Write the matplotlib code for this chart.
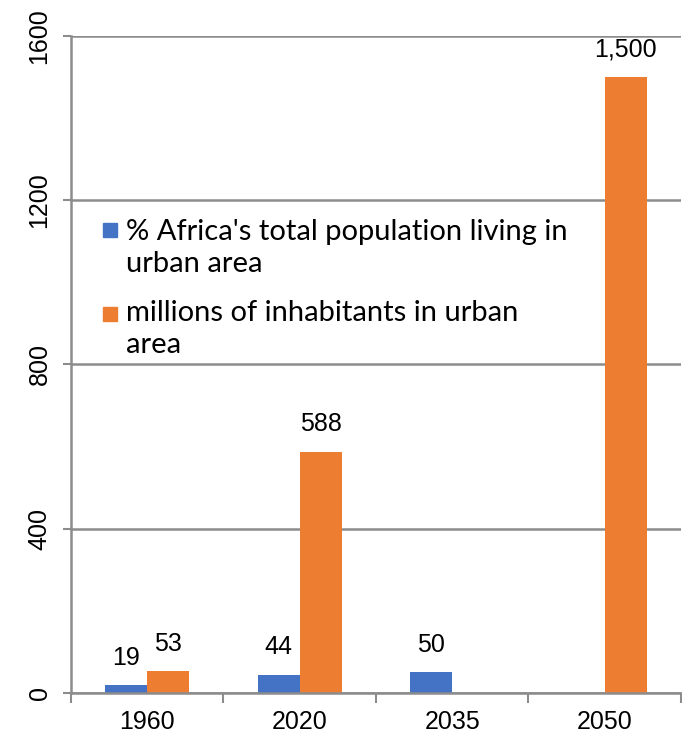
import numpy as np
import matplotlib
matplotlib.use('Agg')
import matplotlib.pyplot as plt
from matplotlib.patches import Rectangle

# datos
anios = ['1960', '2020', '2035', '2050']
pct_urbana = [19, 44, 50, np.nan]  # % poblacion urbana
millones_urbana = [53, 588, np.nan, 1500]  # millones de habitantes
etiquetas_pct = ['19', '44', '50', '']
etiquetas_mill = ['53', '588', '', '1,500']
nombres = ["% Africa's total population living in\nurban area",
           "millions of inhabitants in urban\narea"]
y_ticks = [0, 400, 800, 1200, 1600]

azul = '#4472C4'
naranja = '#ED7D31'
gris = '#8C8C8C'

fig = plt.figure(figsize=(6.82, 7.37), dpi=100)
ax = fig.add_axes([0.1041, 0.0597, 0.8944, 0.8915])

x = np.arange(len(anios))
w = 0.276
ax.bar(x - w / 2, pct_urbana, w, color=azul)
ax.bar(x + w / 2, millones_urbana, w, color=naranja)

for i in range(len(anios)):
    if etiquetas_pct[i]:
        ax.text(x[i] - w / 2, pct_urbana[i] + 38, etiquetas_pct[i], ha='center', va='bottom',
                fontsize=18, family='Liberation Sans')
    if etiquetas_mill[i]:
        ax.text(x[i] + w / 2, millones_urbana[i] + 38, etiquetas_mill[i], ha='center', va='bottom',
                fontsize=18, family='Liberation Sans')

ax.set_xlim(-0.5, 3.5)
ax.set_ylim(0, 1600)
ax.set_yticks(y_ticks)
ax.set_yticklabels([str(v) for v in y_ticks], rotation=90, va='center', fontsize=18,
                   family='Liberation Sans')
ax.set_xticks(x)
ax.set_xticklabels(anios, fontsize=18, family='Liberation Sans')
ax.tick_params(axis='x', which='major', length=0, pad=12)
ax.set_xticks(np.arange(-0.5, 4, 1), minor=True)
ax.tick_params(axis='x', which='minor', length=7, width=1.5, color=gris)
ax.tick_params(axis='y', length=6, width=1.5, color=gris, pad=8)

ax.grid(axis='y', color=gris, linewidth=1.8)
ax.set_axisbelow(True)
for s in ['top', 'right']:
    ax.spines[s].set_visible(False)
ax.spines['left'].set_color(gris)
ax.spines['left'].set_linewidth(1.8)
ax.spines['bottom'].set_color(gris)
ax.spines['bottom'].set_linewidth(1.8)

# leyenda hecha a mano para que el cuadrito quede en la primera linea
colores = [azul, naranja]
y_cuadro = [0.705, 0.577]
y_texto = [0.722, 0.598]
for c, n, yc, yt in zip(colores, nombres, y_cuadro, y_texto):
    ax.add_patch(Rectangle((0.0525, yc - 0.0107), 0.023, 0.0213, color=c,
                           transform=ax.transAxes, clip_on=False))
    ax.text(0.090, yt, n, transform=ax.transAxes, va='top', ha='left',
            fontsize=21, family='Lato', linespacing=1.3)

fig.savefig('out.png', dpi=100)
